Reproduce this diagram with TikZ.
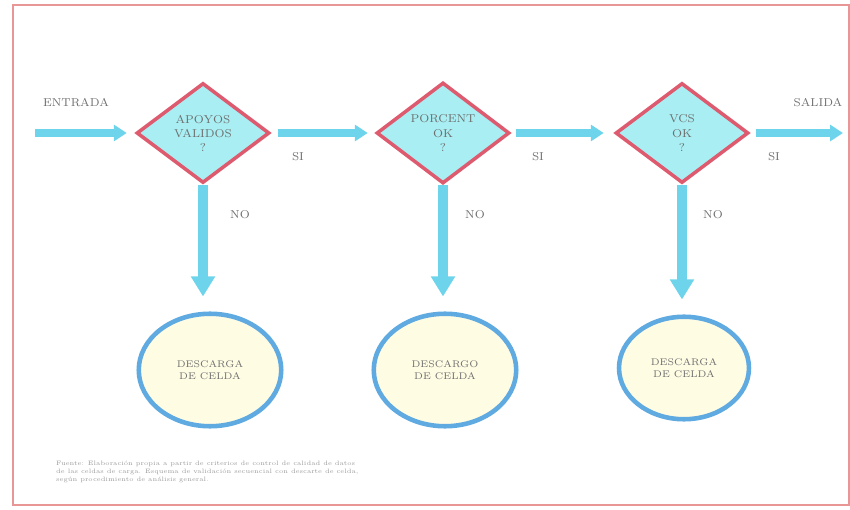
\documentclass[tikz,border=0pt]{standalone}
\usepackage{tikz}
\usetikzlibrary{shapes.geometric,arrows.meta}

\definecolor{flowcyan}{RGB}{110,212,236}
\definecolor{boxfill}{RGB}{168,238,242}
\definecolor{boxred}{RGB}{222,90,110}
\definecolor{ringblue}{RGB}{95,170,225}
\definecolor{ringfill}{RGB}{255,252,228}
\definecolor{framered}{RGB}{232,150,150}
\definecolor{labelgray}{RGB}{110,110,110}

\tikzset{
  test/.style={diamond, draw=boxred, line width=2pt, fill=boxfill,
    minimum width=2.66cm, minimum height=2.0cm, inner sep=0pt, align=center,
    font=\fontsize{6.5}{8}\selectfont, text=labelgray},
  sink/.style={ellipse, draw=ringblue, line width=2.6pt, fill=ringfill,
    minimum width=2.85cm, minimum height=2.25cm, align=center,
    font=\fontsize{5.5}{7}\selectfont, text=labelgray},
  flow/.style={draw=flowcyan, line width=4.5pt,
    -{Triangle[length=0.26cm, width=0.32cm]}},
  drop/.style={draw=flowcyan, line width=6pt,
    -{Triangle[length=0.4cm, width=0.46cm]}},
  tag/.style={font=\fontsize{6.5}{8}\selectfont, text=labelgray}
}

\begin{document}
\begin{tikzpicture}[x=0.02cm, y=-0.02cm]
    % Frame
    \useasboundingbox (0,0) rectangle (850,510);
    \draw[framered, line width=1.5pt] (13,5) rectangle (849,505);

    % Decision boxes
    \node[test] (d1) at (203,133) {APOYOS\\VALIDOS\\?};
    \node[test] (d2) at (443,133) {PORCENT\\OK\\?};
    \node[test] (d3) at (682,133) {VCS\\OK\\?};

    % Discard circles
    \node[sink] (c1) at (210,370) {DESCARGA\\DE CELDA};
    \node[sink] (c2) at (445,370) {DESCARGO\\DE CELDA};
    \node[sink, minimum width=2.6cm, minimum height=2.05cm] (c3) at (684,368) {DESCARGA\\DE CELDA};

    % In and out
    \coordinate (in) at (35,133);
    \coordinate (out) at (843,133);
    \node[tag] (entrada) at (76,103) {ENTRADA};
    \node[tag] (salida) at (818,103) {SALIDA};

    % Main line
    \draw[flow, shorten >=0.16cm] (in) -- (d1.west);
    \draw[flow, shorten <=0.14cm, shorten >=0.14cm] (d1.east) -- (d2.west);
    \draw[flow, shorten <=0.1cm, shorten >=0.2cm] (d2.east) -- (d3.west);
    \draw[flow, shorten <=0.12cm] (d3.east) -- (out);
    \node[tag] (si1) at (298,157) {SI};
    \node[tag] (si2) at (538,157) {SI};
    \node[tag] (si3) at (774,157) {SI};

    % Down arrows
    \draw[drop, shorten >=0.3cm] (d1.south) -- (d1.south |- c1.north);
    \draw[drop, shorten >=0.3cm] (d2.south) -- (d2.south |- c2.north);
    \draw[drop, shorten >=0.3cm] (d3.south) -- (d3.south |- c3.north);
    \node[tag] (no1) at (240,215) {NO};
    \node[tag] (no2) at (475,215) {NO};
    \node[tag] (no3) at (713,215) {NO};

    % Footnote
    \node[anchor=north west, align=left, font=\fontsize{3.6}{4.6}\selectfont, text=labelgray!70] (nota) at (50,455)
      {Fuente: Elaboraci\'on propia a partir de criterios de control de calidad de datos\\
       de las celdas de carga. Esquema de validaci\'on secuencial con descarte de celda,\\
       seg\'un procedimiento de an\'alisis general.};
\end{tikzpicture}
\end{document}
